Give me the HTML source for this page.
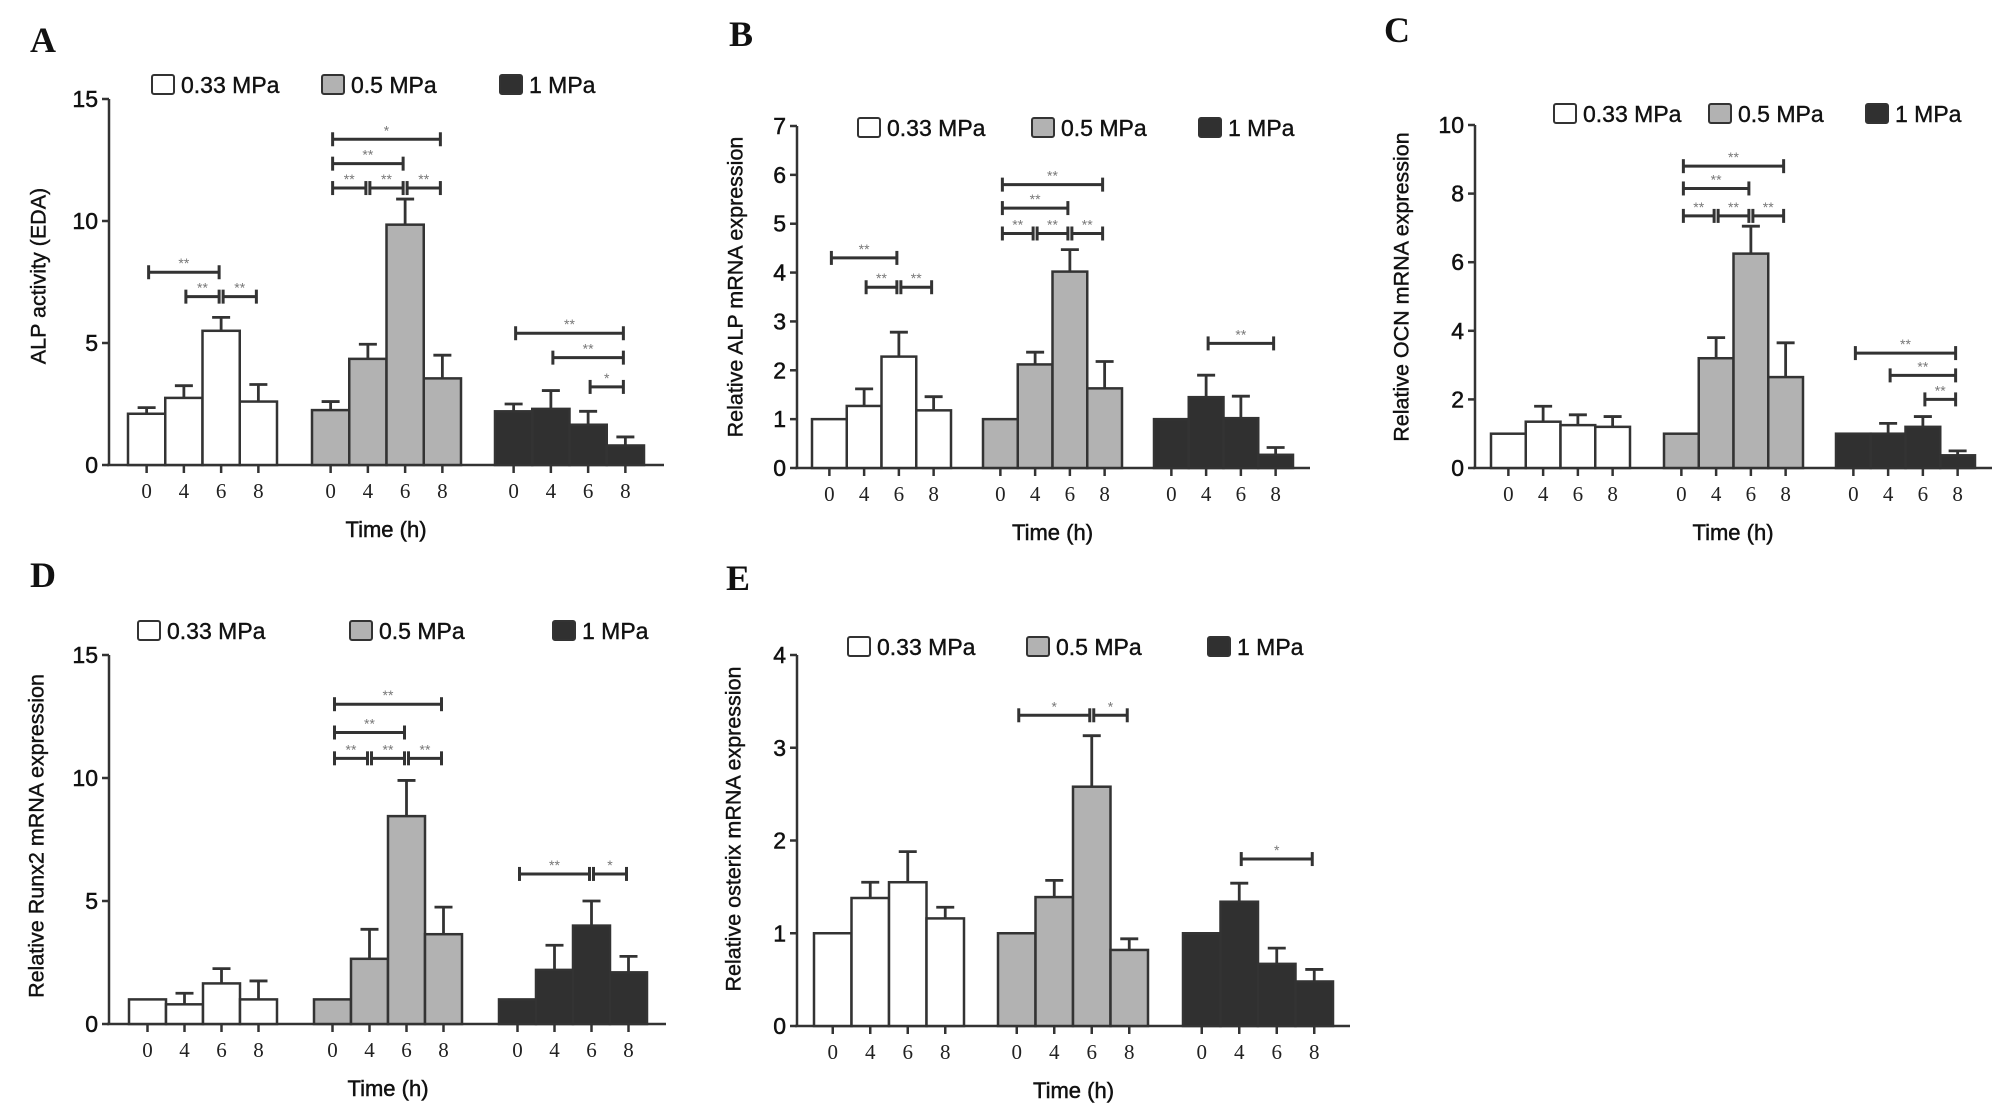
<!DOCTYPE html>
<html><head><meta charset="utf-8">
<style>
html,body{margin:0;padding:0;background:#fff;}
svg{display:block;}
</style></head>
<body>
<svg id="fig" width="2008" height="1111" viewBox="0 0 2008 1111" xmlns="http://www.w3.org/2000/svg" font-family="Liberation Sans, sans-serif"></svg>
<script>
const times = ["0","4","6","8"];
const groups = ["0.33 MPa","0.5 MPa","1 MPa"];
// Panel A: ALP activity
const A_033 = [2.1, 2.75, 5.5, 2.6];
const A_033_err = [0.25, 0.5, 0.55, 0.7];
const A_05 = [2.25, 4.35, 9.85, 3.55];
const A_05_err = [0.35, 0.6, 1.05, 0.95];
const A_1 = [2.2, 2.3, 1.65, 0.8];
const A_1_err = [0.3, 0.75, 0.55, 0.35];
const A_ticks = [0, 5, 10, 15];
// Panel B: ALP mRNA
const B_033 = [1.0, 1.27, 2.28, 1.18];
const B_033_err = [0, 0.35, 0.5, 0.28];
const B_05 = [1.0, 2.12, 4.02, 1.63];
const B_05_err = [0, 0.25, 0.45, 0.55];
const B_1 = [1.0, 1.45, 1.02, 0.27];
const B_1_err = [0, 0.45, 0.45, 0.15];
const B_ticks = [0, 1, 2, 3, 4, 5, 6, 7];
// Panel C: OCN mRNA
const C_033 = [1.0, 1.35, 1.25, 1.2];
const C_033_err = [0, 0.45, 0.3, 0.3];
const C_05 = [1.0, 3.2, 6.25, 2.65];
const C_05_err = [0, 0.6, 0.8, 1.0];
const C_1 = [1.0, 1.0, 1.2, 0.37];
const C_1_err = [0, 0.3, 0.3, 0.13];
const C_ticks = [0, 2, 4, 6, 8, 10];
// Panel D: Runx2 mRNA
const D_033 = [1.0, 0.8, 1.65, 1.0];
const D_033_err = [0, 0.45, 0.6, 0.75];
const D_05 = [1.0, 2.65, 8.45, 3.65];
const D_05_err = [0, 1.2, 1.45, 1.1];
const D_1 = [1.0, 2.2, 4.0, 2.1];
const D_1_err = [0, 1.0, 1.0, 0.65];
const D_ticks = [0, 5, 10, 15];
// Panel E: osterix mRNA
const E_033 = [1.0, 1.38, 1.55, 1.16];
const E_033_err = [0, 0.17, 0.33, 0.12];
const E_05 = [1.0, 1.39, 2.58, 0.82];
const E_05_err = [0, 0.18, 0.55, 0.12];
const E_1 = [1.0, 1.34, 0.67, 0.48];
const E_1_err = [0, 0.2, 0.17, 0.13];
const E_ticks = [0, 1, 2, 3, 4];
// significance brackets: [group, fromBar, toBar, level, label]
const A_sig = [[0,0,2,7.9,"**"],[0,1,2,6.9,"**"],[0,2,3,6.9,"**"],[1,0,3,13.35,"*"],[1,0,2,12.35,"**"],[1,0,1,11.35,"**"],[1,1,2,11.35,"**"],[1,2,3,11.35,"**"],[2,0,3,5.4,"**"],[2,1,3,4.4,"**"],[2,2,3,3.2,"*"]];
const B_sig = [[0,0,2,4.3,"**"],[0,1,2,3.7,"**"],[0,2,3,3.7,"**"],[1,0,3,5.8,"**"],[1,0,2,5.32,"**"],[1,0,1,4.8,"**"],[1,1,2,4.8,"**"],[1,2,3,4.8,"**"],[2,1,3,2.55,"**"]];
const C_sig = [[1,0,3,8.8,"**"],[1,0,2,8.15,"**"],[1,0,1,7.35,"**"],[1,1,2,7.35,"**"],[1,2,3,7.35,"**"],[2,0,3,3.35,"**"],[2,1,3,2.7,"**"],[2,2,3,2.0,"**"]];
const D_sig = [[1,0,3,13,"**"],[1,0,2,11.85,"**"],[1,0,1,10.8,"**"],[1,1,2,10.8,"**"],[1,2,3,10.8,"**"],[2,0,2,6.1,"**"],[2,2,3,6.1,"*"]];
const E_sig = [[1,0,2,3.35,"*"],[1,2,3,3.35,"*"],[2,1,3,1.8,"*"]];

const panels = [
 {id:"a",letter:"A",lx:30,ly:52,ax:109,ay0:465,ay1:99,ymax:15,axEnd:664,gx:[128,312,495],gw:149,leg:[152,322,500],legY:85,title:"ALP activity (EDA)",tx:40,ty:276,
  vals:[A_033,A_05,A_1],errs:[A_033_err,A_05_err,A_1_err],ticks:A_ticks,sig:A_sig},
 {id:"b",letter:"B",lx:729,ly:46,ax:797,ay0:468,ay1:126,ymax:7,axEnd:1310,gx:[812,983,1154],gw:139,leg:[858,1032,1199],legY:128,title:"Relative ALP mRNA expression",tx:737,ty:287,
  vals:[B_033,B_05,B_1],errs:[B_033_err,B_05_err,B_1_err],ticks:B_ticks,sig:B_sig},
 {id:"c",letter:"C",lx:1384,ly:42,ax:1475,ay0:468,ay1:125,ymax:10,axEnd:1992,gx:[1491,1664,1836],gw:139,leg:[1554,1709,1866],legY:114,title:"Relative OCN mRNA expression",tx:1403,ty:287,
  vals:[C_033,C_05,C_1],errs:[C_033_err,C_05_err,C_1_err],ticks:C_ticks,sig:C_sig},
 {id:"d",letter:"D",lx:30,ly:587,ax:109,ay0:1024,ay1:655,ymax:15,axEnd:666,gx:[129,314,499],gw:148,leg:[138,350,553],legY:631,title:"Relative Runx2 mRNA expression",tx:38,ty:836,
  vals:[D_033,D_05,D_1],errs:[D_033_err,D_05_err,D_1_err],ticks:D_ticks,sig:D_sig},
 {id:"e",letter:"E",lx:726,ly:590,ax:797,ay0:1026,ay1:655,ymax:4,axEnd:1350,gx:[814,998,1183],gw:150,leg:[848,1027,1208],legY:647,title:"Relative osterix mRNA expression",tx:735,ty:829,
  vals:[E_033,E_05,E_1],errs:[E_033_err,E_05_err,E_1_err],ticks:E_ticks,sig:E_sig}
];
const fills = ["#ffffff","#b2b2b2","#303030"];
const NS = "http://www.w3.org/2000/svg";
const SERIF = "font-family:'Liberation Serif',serif;";
const SANS = "font-family:'Liberation Sans',sans-serif;";
const svg = document.getElementById("fig");
function mk(tag, attrs, parent, txt){
  const e = document.createElementNS(NS, tag);
  for (const k in attrs) e.setAttribute(k, attrs[k]);
  if (txt !== undefined) e.textContent = txt;
  parent.appendChild(e);
  return e;
}
panels.forEach(p => {
  const g = mk("g", {}, svg);
  
  
  const yS = v => p.ay0 - (v / p.ymax) * (p.ay0 - p.ay1);
  const bw = p.gw / 4;
  const xC = (gi, bi) => p.gx[gi] + bw * (bi + 0.5);
  const L = mk("text", {x:p.lx, y:p.ly, style:SERIF+"font-weight:bold;font-size:36px;", fill:"#111"}, g, p.letter);
  
  
  const ya = mk("line", {x1:p.ax, y1:p.ay1, x2:p.ax, y2:p.ay0, stroke:"#333", "stroke-width":"2.5"}, g);
  
  
  p.ticks.forEach(t => {
    const y = yS(t);
    mk("line", {x1:p.ax-7, y1:y, x2:p.ax, y2:y, stroke:"#333", "stroke-width":"2.5"}, g);
    const tl = mk("text", {x:p.ax-11, y:y+8, "text-anchor":"end", style:SANS+"font-size:23px;", fill:"#111", stroke:"#111", "stroke-width":"0.5"}, g, String(t));
    
    
  });
  const yt = mk("text", {x:p.tx, y:p.ty, "text-anchor":"middle", style:SANS+"font-size:21.5px;", fill:"#111", stroke:"#111", "stroke-width":"0.4", transform:"rotate(-90 "+p.tx+" "+p.ty+")", "dominant-baseline":"middle"}, g, p.title);
  
  
  const xa = mk("line", {x1:p.ax-2, y1:p.ay0, x2:p.axEnd, y2:p.ay0, stroke:"#333", "stroke-width":"2.5"}, g);
  
  
  p.vals.forEach((arr, gi) => {
    arr.forEach((v, bi) => {
      const x = p.gx[gi] + bw * bi;
      const yv = yS(v);
      const e = p.errs[gi][bi];
      if (e > 0) {
        const ye = yS(v + e);
        mk("line", {x1:xC(gi,bi), y1:yv, x2:xC(gi,bi), y2:ye, stroke:"#333", "stroke-width":"2.8"}, g);
        const cap = mk("line", {x1:xC(gi,bi)-9, y1:ye, x2:xC(gi,bi)+9, y2:ye, stroke:"#333", "stroke-width":"2.8"}, g);
        
        
      }
      const r = mk("rect", {x:x, y:yv, width:bw, height:p.ay0-yv, fill:fills[gi], stroke:"#333", "stroke-width":"2.5"}, g);
      
      
      mk("line", {x1:xC(gi,bi), y1:p.ay0, x2:xC(gi,bi), y2:p.ay0+8, stroke:"#333", "stroke-width":"2.5"}, g);
      const xl = mk("text", {x:xC(gi,bi), y:p.ay0+33, "text-anchor":"middle", style:SERIF+"font-size:21px;", fill:"#222"}, g, times[bi]);
      
      
    });
  });
  const xt = mk("text", {x:(p.gx[0]+p.gx[2]+p.gw)/2, y:p.ay0+72, "text-anchor":"middle", style:SANS+"font-size:22px;", fill:"#111", stroke:"#111", "stroke-width":"0.5"}, g, "Time (h)");
  
  
  p.sig.forEach(s => {
    const x1 = xC(s[0], s[1]) + 2, x2 = xC(s[0], s[2]) - 2, y = yS(s[3]);
    const bg = mk("g", {stroke:"#333", "stroke-width":"3"}, g);
    
    
    mk("line", {x1:x1, y1:y, x2:x2, y2:y}, bg);
    mk("line", {x1:x1, y1:y-7, x2:x1, y2:y+7}, bg);
    mk("line", {x1:x2, y1:y-7, x2:x2, y2:y+7}, bg);
    const st = mk("text", {x:(x1+x2)/2, y:y-4, "text-anchor":"middle", style:SANS+"font-size:14px;", fill:"#777"}, g, s[4]);
    
    
  });
  groups.forEach((name, gi) => {
    const lg = mk("g", {}, g);
    
    
    mk("rect", {x:p.leg[gi], y:p.legY-10, width:22, height:19, rx:2, fill:fills[gi], stroke:"#333", "stroke-width":"2"}, lg);
    mk("text", {x:p.leg[gi]+29, y:p.legY+8, style:SANS+"font-size:23px;", fill:"#111", stroke:"#111", "stroke-width":"0.4"}, lg, name);
  });
});
</script>
</body></html>
